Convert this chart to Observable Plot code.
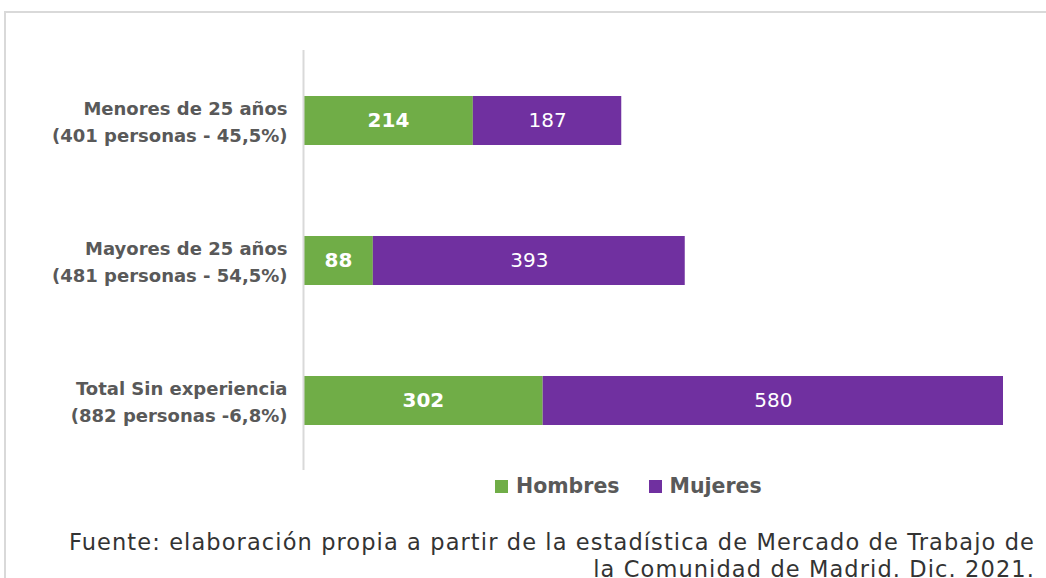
<!DOCTYPE html>
<html><head><meta charset="utf-8">
<script src="https://cdn.jsdelivr.net/npm/d3@7"></script>
<script src="https://cdn.jsdelivr.net/npm/@observablehq/plot@0.6"></script>
<style>
html,body{margin:0;padding:0;background:#fff;width:1046px;height:578px;overflow:hidden;}
#frame{position:absolute;left:4px;top:11px;width:1100px;height:700px;border:2px solid #d9d9d9;box-sizing:border-box;}
#chart{position:absolute;left:0;top:0;}
#legend{position:absolute;top:474px;left:495px;font-family:"DejaVu Sans",sans-serif;font-weight:bold;font-size:20.5px;color:#595959;white-space:nowrap;}
#legend span.sw{display:inline-block;width:13px;height:13px;margin-right:8px;vertical-align:0px;}
#legend span.it{margin-right:29px;}
#caption{position:absolute;right:11px;top:529px;text-align:right;font-family:"DejaVu Sans",sans-serif;font-weight:normal;font-size:22.5px;line-height:27px;color:#333;letter-spacing:1.1px;white-space:nowrap;}
</style></head>
<body>
<div id="frame"></div>
<div id="chart"></div>
<div id="legend"></div>
<div id="caption">Fuente: elaboración propia a partir de la estadística de Mercado de Trabajo de<br>la Comunidad de Madrid. Dic. 2021.</div>
<script>
const categories = ["Menores de 25 años", "Mayores de 25 años", "Total Sin experiencia"];
const categoryLabels = ["Menores de 25 años\n(401 personas - 45,5%)", "Mayores de 25 años\n(481 personas - 54,5%)", "Total Sin experiencia\n(882 personas -6,8%)"];
const series = ["Hombres", "Mujeres"];
const hombres = [214, 88, 302];
const mujeres = [187, 393, 580];
const colors = ["#70AD47", "#7030A0"];

const data = [];
categories.forEach((c, i) => {
  data.push({cat: c, sex: series[0], value: hombres[i]});
  data.push({cat: c, sex: series[1], value: mujeres[i]});
});
const labelOf = Object.fromEntries(categories.map((c, i) => [c, categoryLabels[i]]));

const plot = Plot.plot({
  width: 1046,
  height: 500,
  marginLeft: 303,
  marginRight: 43,
  marginTop: 50,
  marginBottom: 30,
  x: {domain: [0, 882], axis: null},
  y: {domain: categories, paddingInner: 0.65, paddingOuter: 0.325, label: null},
  color: {domain: series, range: colors},
  style: {background: "transparent"},
  marks: [
    Plot.barX(data, Plot.stackX({x: "value", y: "cat", fill: "sex", order: series})),
    Plot.text(data, Plot.stackX({x: "value", y: "cat", z: "sex", order: series,
      text: d => d.sex === "Hombres" ? String(d.value) : null,
      fill: "white", fontWeight: "bold", fontSize: 20, fontFamily: "DejaVu Sans"})),
    Plot.text(data, Plot.stackX({x: "value", y: "cat", z: "sex", order: series,
      text: d => d.sex === "Mujeres" ? String(d.value) : null,
      fill: "white", fontWeight: "normal", fontSize: 20, fontFamily: "DejaVu Sans"})),
    Plot.ruleX([0], {stroke: "#d9d9d9", strokeWidth: 2}),
    Plot.axisY({tickSize: 0, tickPadding: 16, tickFormat: d => labelOf[d], dy: -1,
      fontSize: 18, fontWeight: "bold", fill: "#595959", fontFamily: "DejaVu Sans", lineHeight: 1.5, label: null})
  ]
});
document.getElementById("chart").appendChild(plot);

const lg = document.getElementById("legend");
series.forEach((s, i) => {
  const it = document.createElement("span");
  it.className = "it";
  it.innerHTML = `<span class="sw" style="background:${colors[i]}"></span>${s}`;
  lg.appendChild(it);
});
</script>
</body></html>
